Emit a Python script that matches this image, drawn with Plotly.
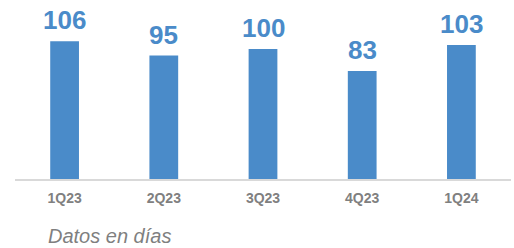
import plotly.graph_objects as go

categories = ["1Q23", "2Q23", "3Q23", "4Q23", "1Q24"]
values = [106, 95, 100, 83, 103]

bar_color = "#4a8bc9"
fig = go.Figure()
fig.add_trace(go.Bar(x=categories, y=values, marker=dict(color=bar_color, line=dict(width=0)),
                     width=0.29, hoverinfo="skip"))
for c, v in zip(categories, values):
    fig.add_annotation(x=c, y=v, text=f"<b>{v}</b>", showarrow=False, yanchor="bottom",
                       yshift=4, font=dict(family="Liberation Sans, Arial", size=26, color=bar_color))
fig.add_annotation(xref="paper", yref="paper", x=31/496, y=-0.318, xanchor="left", yanchor="middle",
                   text="<i>Datos en días</i>", showarrow=False,
                   font=dict(family="Liberation Sans, Arial", size=20, color="#7f7f7f"))
fig.update_layout(
    width=514, height=248, margin=dict(l=15, r=3, t=0, b=69, autoexpand=False),
    paper_bgcolor="white", plot_bgcolor="white", showlegend=False,
    xaxis=dict(showline=True, linecolor="#d9d9d9", linewidth=1.5, ticks="", showgrid=False,
               tickfont=dict(family="Liberation Sans, Arial", size=14, color="#808080"),
               ticklabelstandoff=5),
    yaxis=dict(range=[0, 137.7], visible=False, showgrid=False),
)
fig.update_xaxes(ticktext=[f"<b>{c}</b>" for c in categories], tickvals=categories)
fig.write_html("out.html", config={"displayModeBar": False},
               post_script="document.body.style.margin='0';")
